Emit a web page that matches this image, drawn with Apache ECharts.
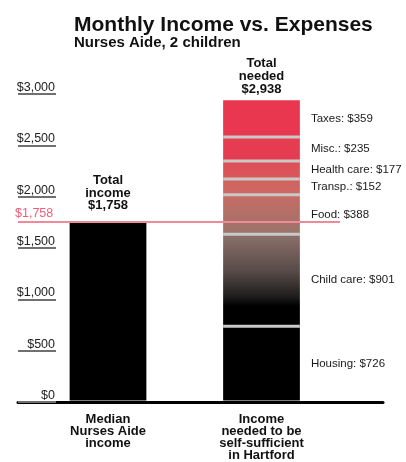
<!DOCTYPE html>
<html>
<head>
<meta charset="utf-8">
<script src="https://cdn.jsdelivr.net/npm/echarts@6/dist/echarts.min.js"></script>
<style>
  html, body { margin: 0; padding: 0; background: #fff; }
  #chart { width: 406px; height: 462px; }
</style>
</head>
<body>
<div id="chart"></div>
<script>
// Category labels under the two bars
const categories = ['Median\nNurses Aide\nincome', 'Income\nneeded to be\nself-sufficient\nin Hartford'];
// Monthly income of a nurses aide
const incomeValue = 1758;
// Monthly budget items, bottom of the stack first
const expenseNames = ['Housing', 'Child care', 'Food', 'Transp.', 'Health care', 'Misc.', 'Taxes'];
const expenseValues = [726, 901, 388, 152, 177, 235, 359];
// Vertical axis ticks
const yTicks = [0, 500, 1000, 1500, 2000, 2500, 3000];

const totalNeeded = expenseValues.reduce((a, b) => a + b, 0);
const money = v => '$' + v.toLocaleString('en-US');

const FONT = '"Liberation Sans", Arial, Helvetica, sans-serif';

const grad = stops => new echarts.graphic.LinearGradient(0, 0, 0, 1,
  stops.map(([offset, color]) => ({ offset, color })));

// Fill of each budget item: black at the bottom warming up to red at the top
const segmentFills = [
  '#000000',
  grad([[0, '#8d716b'], [0.4, '#574b48'], [0.68, '#1e1c1c'], [0.78, '#000000'], [1, '#000000']]),
  grad([[0, '#c86c64'], [1, '#99736b']]),
  grad([[0, '#d2625e'], [1, '#cc6a63']]),
  grad([[0, '#de4f57'], [1, '#d9585a']]),
  '#e63c52',
  '#e8374f'
];

// Cumulative tops of each stacked item (the separators sit between items)
const boundaries = [];
expenseValues.reduce((acc, v, i) => {
  const top = acc + v;
  if (i < expenseValues.length - 1) boundaries.push([categories[1], top]);
  return top;
}, 0);

const yMin = yTicks[0];
const yMax = yTicks[yTicks.length - 1];
const yStep = yTicks[1] - yTicks[0];

const chart = echarts.init(document.getElementById('chart'), null, { renderer: 'canvas' });

const expenseSeries = expenseNames.map((name, i) => ({
  name,
  type: 'bar',
  stack: 'budget',
  xAxisIndex: 0,
  yAxisIndex: 0,
  barWidth: '50%',
  z: 2,
  data: categories.map((c, ci) => (ci === 1 ? expenseValues[i] : '-')),
  itemStyle: { color: segmentFills[i] },
  label: {
    show: true,
    position: 'right',
    distance: 11,
    fontFamily: FONT,
    fontSize: 11.5,
    color: '#1a1a1a',
    formatter: p => name + ': ' + money(p.value)
  }
}));

chart.setOption({
  animation: false,
  backgroundColor: '#ffffff',
  title: [
    {
      text: 'Monthly Income vs. Expenses',
      left: 69, top: 10,
      textStyle: { fontFamily: FONT, fontSize: 21, fontWeight: 'bold', color: '#111', lineHeight: 21 }
    },
    {
      text: 'Nurses Aide, 2 children',
      left: 69, top: 30,
      textStyle: { fontFamily: FONT, fontSize: 15, fontWeight: 'bold', color: '#111', lineHeight: 15 }
    }
  ],
  grid: [
    { left: 31.25, right: 67.75, top: 94, bottom: 60 },
    { left: 18, right: 23, top: 94, bottom: 60 }
  ],
  xAxis: [
    {
      gridIndex: 0,
      type: 'category',
      data: categories,
      axisLine: { show: false },
      axisTick: { show: false },
      axisLabel: {
        interval: 0,
        margin: 13,
        fontFamily: FONT,
        fontSize: 13,
        fontWeight: 'bold',
        lineHeight: 12,
        color: '#111',
        align: 'center'
      }
    },
    {
      gridIndex: 1,
      type: 'value',
      min: 0, max: 1,
      axisLine: { show: true, lineStyle: { color: '#000', width: 3 } },
      axisTick: { show: false },
      axisLabel: { show: false },
      splitLine: { show: false }
    }
  ],
  yAxis: [
    {
      gridIndex: 0,
      type: 'value',
      min: yMin, max: yMax, interval: yStep,
      show: false
    },
    {
      gridIndex: 1,
      type: 'value',
      min: yMin, max: yMax, interval: yStep,
      axisLine: { show: false },
      splitLine: { show: false },
      axisTick: { show: true, inside: true, length: 38, lineStyle: { color: '#707070', width: 2 } },
      axisLabel: {
        inside: true,
        margin: 37,
        align: 'right',
        verticalAlign: 'bottom',
        fontFamily: FONT,
        fontSize: 12.5,
        color: '#222',
        formatter: v => money(v)
      }
    }
  ],
  series: [
    {
      name: 'Income',
      type: 'bar',
      stack: 'budget',
      xAxisIndex: 0,
      yAxisIndex: 0,
      barWidth: '50%',
      z: 2,
      data: categories.map((c, ci) => (ci === 0 ? incomeValue : '-')),
      itemStyle: { color: '#000' },
      label: {
        show: true,
        position: 'top',
        distance: 9,
        fontFamily: FONT,
        fontSize: 13,
        fontWeight: 'bold',
        lineHeight: 12.5,
        color: '#111',
        align: 'center',
        formatter: p => 'Total\nincome\n' + money(p.value)
      }
    },
    ...expenseSeries,
    {
      // light separators between the stacked budget items
      name: 'separators',
      type: 'custom',
      xAxisIndex: 0,
      yAxisIndex: 0,
      z: 4,
      silent: true,
      data: boundaries,
      renderItem: (params, api) => {
        const p = api.coord([api.value(0), api.value(1)]);
        const w = api.size([1, 0])[0] * 0.5;
        return {
          type: 'rect',
          shape: { x: p[0] - w / 2, y: p[1] - 1.5, width: w, height: 3 },
          style: { fill: '#c9c9c9' }
        };
      }
    },
    {
      // total label above the stacked bar
      name: 'total',
      type: 'custom',
      xAxisIndex: 0,
      yAxisIndex: 0,
      z: 4,
      silent: true,
      data: [[categories[1], totalNeeded]],
      renderItem: (params, api) => {
        const p = api.coord([api.value(0), api.value(1)]);
        return {
          type: 'text',
          x: p[0], y: p[1] - 5,
          style: {
            text: 'Total\nneeded\n' + money(api.value(1)),
            font: 'bold 13px ' + FONT,
            lineHeight: 12.7,
            fill: '#111',
            align: 'center',
            verticalAlign: 'bottom'
          }
        };
      }
    },
    {
      // reference line at the income level
      name: 'income level',
      type: 'line',
      xAxisIndex: 1,
      yAxisIndex: 1,
      z: 1,
      data: [],
      markLine: {
        silent: true,
        symbol: ['none', 'none'],
        lineStyle: { color: '#f08a99', width: 2, type: 'solid' },
        label: {
          show: true,
          position: 'insideStartTop',
          distance: [-3, 1],
          fontFamily: FONT,
          fontSize: 12.5,
          color: '#ee5f76',
          formatter: () => money(incomeValue)
        },
        data: [[{ coord: [0, incomeValue] }, { coord: [0.882, incomeValue] }]]
      }
    }
  ]
});
</script>
</body>
</html>
